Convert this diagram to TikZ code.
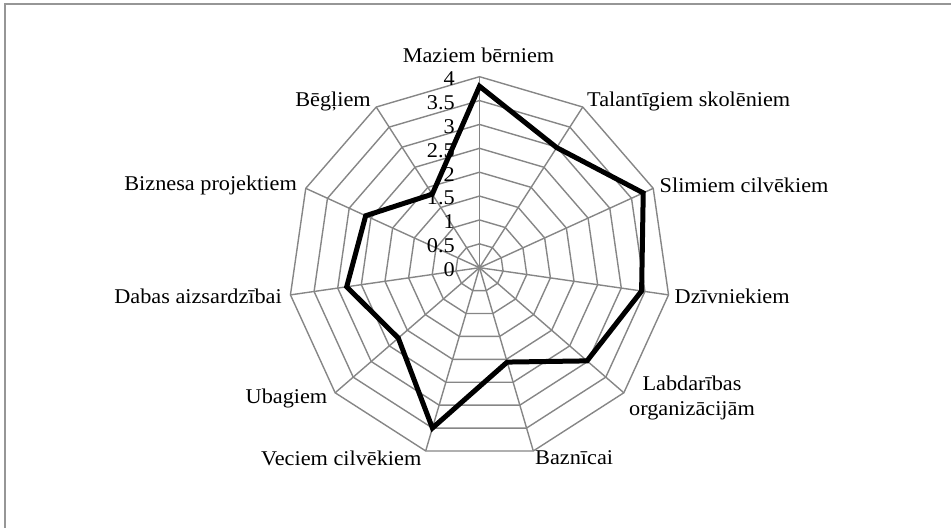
\documentclass[tikz,border=0pt]{standalone}
\usepackage{fontspec}
\setmainfont{Liberation Serif}[FakeStretch=1.06]
\definecolor{gridgray}{RGB}{134,134,134}
\definecolor{framegray}{RGB}{150,150,150}
\begin{document}
\begin{tikzpicture}[x=1pt,y=1pt,
  every node/.style={font=\fontsize{21}{25}\selectfont, inner sep=0pt, text=black},
  gridline/.style={draw=gridgray, line width=1.4pt},
  frameline/.style={draw=framegray, line width=2pt},
  dataline/.style={draw=black, line width=5pt, line join=miter, miter limit=10},
  catlabel/.style={},
  ticklabel/.style={anchor=east}]
  % canvas, origin at the chart centre
  \useasboundingbox (-479.5,-260.3) rectangle (471.5,267.7);
  \draw[frameline] (471.5,263.2) -- (-474,263.2) -- (-474,-260.3);

  % radar grid: 8 rings of 0.5 each, 11 spokes
  \foreach \r in {1,...,8}{
    \draw[gridline] (90:\r*23.875)
      \foreach \k in {1,...,10}{ -- ({90-\k*360/11}:\r*23.875)} -- cycle;
  }
  \foreach \k in {0,...,10}{
    \draw[gridline] (0,0) -- ({90-\k*360/11}:191);
  }

  % scale labels along the vertical axis
  \foreach \v/\t [count=\i from 0] in {0/0,0.5/0.5,1/1,1.5/1.5,2/2,2.5/2.5,3/3,3.5/3.5,4/4}{
    \node[ticklabel] (tick\i) at (-24.5,{\v*47.75-2}) {\t};
  }

  % data series
  \foreach \v [count=\k from 0] in {3.8,2.99,3.77,3.43,2.98,2.06,3.5,2.25,2.81,2.62,1.83}{
    \coordinate (p\k) at ({90-\k*360/11}:{\v*47.75});
  }
  \draw[dataline] (p0) \foreach \k in {1,...,10}{ -- (p\k)} -- cycle;

  % category labels
  \node[catlabel] (c0) at (-1,212.7) {Maziem bērniem};
  \node[catlabel, anchor=west] (c1) at (107.5,166.7) {Talantīgiem skolēniem};
  \node[catlabel, anchor=west] (c2) at (180,82.7) {Slimiem cilvēkiem};
  \node[catlabel, anchor=west] (c3) at (195,-28.3) {Dzīvniekiem};
  \node[catlabel, align=center] (c4) at (212.5,-129.8) {Labdarības\\organizācijām};
  \node[catlabel, anchor=west] (c5) at (55.5,-190.3) {Baznīcai};
  \node[catlabel, anchor=east] (c6) at (-58,-190.3) {Veciem cilvēkiem};
  \node[catlabel, anchor=east] (c7) at (-152,-130.3) {Ubagiem};
  \node[catlabel, anchor=east] (c8) at (-197.5,-28.3) {Dabas aizsardzībai};
  \node[catlabel, anchor=east] (c9) at (-182.5,82.7) {Biznesa projektiem};
  \node[catlabel, anchor=east] (c10) at (-108.5,166.7) {Bēgļiem};
\end{tikzpicture}
\end{document}
